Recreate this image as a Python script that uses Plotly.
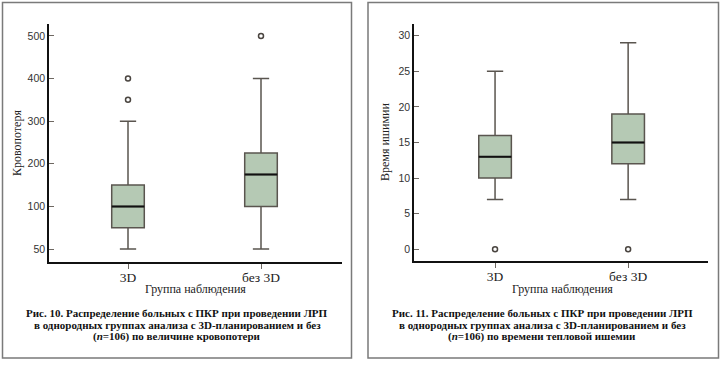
import numpy as np
import plotly.graph_objects as go

W, H = 720, 365

# ---------------- data ----------------
groups = ["3D", "без 3D"]

# Fig.10 blood loss
blood_q1 = [75, 100]
blood_median = [100, 175]
blood_q3 = [150, 225]
blood_low = [50, 50]
blood_high = [300, 400]
blood_outlier_group = [0, 0, 1]
blood_outlier_value = [400, 350, 500]
blood_ticks = [50, 100, 200, 300, 400, 500]

# Fig.11 warm ischemia time
isch_q1 = [10, 12]
isch_median = [13, 15]
isch_q3 = [16, 19]
isch_low = [7, 7]
isch_high = [25, 29]
isch_outlier_group = [0, 1]
isch_outlier_value = [0, 0]
isch_ticks = [0, 5, 10, 15, 20, 25, 30]

caption_left = ["Рис. 10. Распределение больных с ПКР при проведении ЛРП",
                "в однородных группах анализа с 3D-планированием и без",
                "(<i>n</i>=106) по величине кровопотери"]
caption_right = ["Рис. 11. Распределение больных с ПКР при проведении ЛРП",
                 "в однородных группах анализа с 3D-планированием и без",
                 "(<i>n</i>=106) по времени тепловой ишемии"]

# left axis uses equally spaced labels (50,100,...,500)
def blood_pos(v):
    return np.interp(v, blood_ticks, np.arange(len(blood_ticks)))

# ---------------- style ----------------
FILL = "#b5c9b4"
EDGE = "#5a554f"
BOXW = 0.245
SANS = "Liberation Sans, Arial, sans-serif"
SERIF = "Liberation Serif, Times New Roman, serif"

def px(x):
    return x / W

def py(y):
    return 1 - y / H

fig = go.Figure()

def add_panel(xa, ya, q1, med, q3, lo, hi, og, ov):
    xs = list(range(len(groups)))
    for i in xs:
        fig.add_trace(go.Box(
            x=[i], q1=[q1[i]], median=[med[i]], q3=[q3[i]],
            lowerfence=[lo[i]], upperfence=[hi[i]],
            width=BOXW, whiskerwidth=0.5, boxpoints=False,
            fillcolor=FILL, line=dict(color=EDGE, width=1.5),
            xaxis=xa, yaxis=ya, showlegend=False, hoverinfo="skip"))
        fig.add_trace(go.Scatter(
            x=[i - BOXW / 2, i + BOXW / 2], y=[med[i], med[i]],
            mode="lines", line=dict(color="#111111", width=2),
            xaxis=xa, yaxis=ya, showlegend=False, hoverinfo="skip"))
    fig.add_trace(go.Scatter(
        x=og, y=ov, mode="markers",
        marker=dict(symbol="circle-open", size=5, color="#4a4540",
                    line=dict(width=1.5, color="#4a4540")),
        xaxis=xa, yaxis=ya, showlegend=False, hoverinfo="skip"))

add_panel("x", "y",
          blood_pos(blood_q1), blood_pos(blood_median), blood_pos(blood_q3),
          blood_pos(blood_low), blood_pos(blood_high),
          blood_outlier_group, blood_pos(blood_outlier_value))
add_panel("x2", "y2", isch_q1, isch_median, isch_q3, isch_low, isch_high,
          isch_outlier_group, isch_outlier_value)

xcommon = dict(showline=True, linecolor="#111111", linewidth=1.5,
               showgrid=False, zeroline=False, ticks="outside", ticklen=5,
               tickcolor="#6e6862", tickvals=[0, 1], ticktext=groups,
               ticklabelstandoff=-3,
               tickfont=dict(family=SERIF, size=13.5, color="#222222"))
ycommon = dict(showline=True, linecolor="#111111", linewidth=1.5,
               showgrid=False, zeroline=False, ticks="inside", ticklen=5,
               tickcolor="#6e6862",
               tickfont=dict(family=SANS, size=10.5, color="#333333"))

fig.update_layout(
    width=W, height=H, autosize=False,
    margin=dict(l=0, r=0, t=0, b=0),
    paper_bgcolor="white", plot_bgcolor="white",
    xaxis=dict(domain=[px(49), px(342)], range=[-0.594, 1.609],
               anchor="y", **xcommon),
    yaxis=dict(domain=[py(262), py(24)], range=[-0.305, 5.28], anchor="x",
               tickvals=list(range(len(blood_ticks))),
               ticktext=[str(t) for t in blood_ticks], **ycommon),
    xaxis2=dict(domain=[px(414), px(708)], range=[-0.609, 1.60],
                anchor="y2", **xcommon),
    yaxis2=dict(domain=[py(261), py(24)], range=[-1.64, 31.64], anchor="x2",
                tickvals=isch_ticks, **ycommon),
)

# panel frames
for (x0, x1) in [(2.5, 351.5), (368, 718.5)]:
    fig.add_shape(type="rect", xref="paper", yref="paper",
                  x0=px(x0), x1=px(x1), y0=py(358), y1=py(2.5),
                  line=dict(color="#7a7a7a", width=1.5), fillcolor="rgba(0,0,0,0)")

ann = []
# y titles
ann.append(dict(text="Кровопотеря", x=px(17), y=py(143), textangle=-90))
ann.append(dict(text="Время ишимии", x=px(385), y=py(142), textangle=-90))
# x titles
ann.append(dict(text="Группа наблюдения", x=px(195), y=py(289)))
ann.append(dict(text="Группа наблюдения", x=px(562), y=py(289)))
for a in ann:
    a.update(xref="paper", yref="paper", showarrow=False,
             xanchor="center", yanchor="middle",
             font=dict(family=SERIF, size=12, color="#222222"))
    fig.add_annotation(**a)

for cx, lines in [(177, caption_left), (542, caption_right)]:
    for k, line in enumerate(lines):
        fig.add_annotation(text="<b>" + line + "</b>", xref="paper", yref="paper",
                           x=px(cx), y=py(313 + 11.7 * k), showarrow=False,
                           xanchor="center", yanchor="middle",
                           font=dict(family=SERIF, size=11, color="#111111"))

fig.write_html("out.html", config={"displayModeBar": False},
               post_script="document.body.style.margin='0';document.body.style.padding='0';")
